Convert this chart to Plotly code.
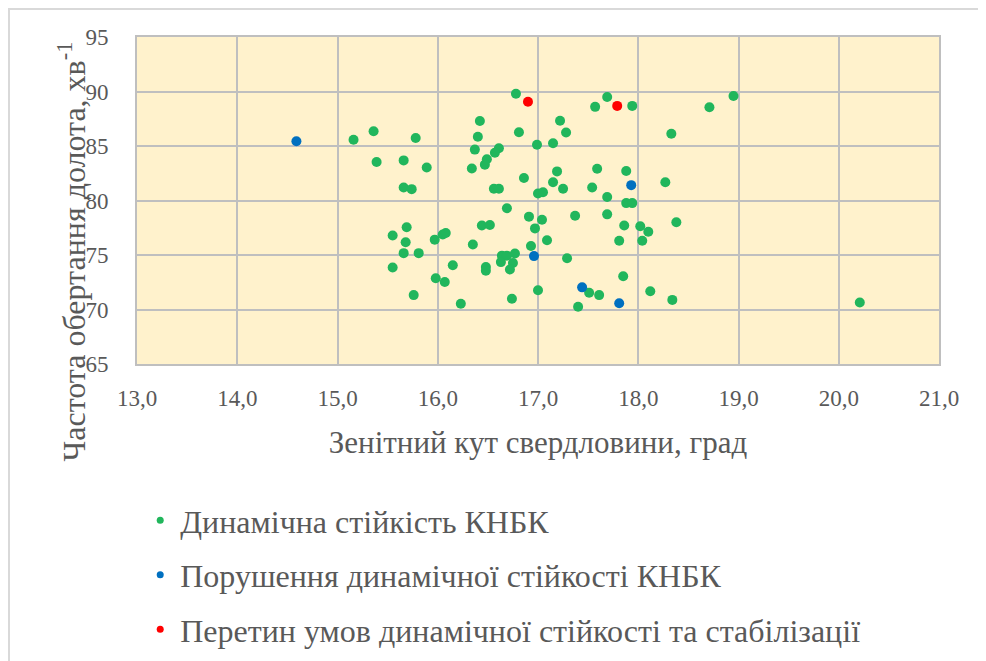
import plotly.graph_objects as go

# Динамічна стійкість КНБК
green_x = [15.16, 15.36, 15.39, 15.66, 15.66, 15.74, 15.78, 15.89, 16.78, 17.69, 17.57, 17.94,
           16.42, 17.22, 16.40, 16.81, 17.28, 18.33, 16.37, 16.61, 16.57, 16.99, 17.15, 16.49,
           16.47, 16.34, 16.86, 17.19, 17.59, 17.88, 18.27, 17.15, 17.25, 17.54, 16.56, 16.61,
           17.00, 17.05, 17.69, 17.88, 17.94, 16.69, 16.91, 17.04, 17.37, 17.69, 18.38, 18.95,
           18.71, 15.69, 15.68, 15.66, 15.81, 15.97, 16.05, 16.08, 16.35, 16.44, 16.52, 16.97,
           17.09, 16.93, 17.86, 18.02, 18.10, 17.81, 18.04, 16.15, 16.64, 16.69, 16.77, 16.63,
           16.75, 16.48, 16.48, 16.72, 17.29, 15.98, 16.07, 15.76, 16.23, 16.74, 17.00, 17.51,
           17.61, 17.40, 17.85, 18.12, 18.34, 15.55, 15.55, 20.21]
green_y = [85.58, 86.35, 83.53, 83.68, 81.20, 81.04, 85.73, 83.02, 89.79, 89.50, 88.59, 88.68,
           87.29, 87.32, 85.85, 86.26, 86.24, 86.12, 84.67, 84.79, 84.38, 85.11, 85.26, 83.79,
           83.29, 82.94, 82.06, 82.67, 82.91, 82.70, 81.67, 81.67, 81.08, 81.20, 81.08, 81.08,
           80.64, 80.76, 80.32, 79.76, 79.76, 79.29, 78.52, 78.24, 78.60, 78.73, 78.00, 89.59,
           88.56, 77.55, 76.17, 75.17, 75.17, 76.41, 76.88, 77.02, 75.96, 77.70, 77.76, 77.44,
           76.35, 75.82, 77.70, 77.64, 77.14, 76.31, 76.31, 74.06, 74.94, 74.94, 75.14, 74.35,
           74.26, 73.90, 73.55, 73.67, 74.70, 72.87, 72.52, 71.32, 70.52, 70.99, 71.76, 71.53,
           71.32, 70.26, 73.05, 71.67, 70.88, 76.79, 73.85, 70.64]

# Порушення динамічної стійкості КНБК
blue_x = [14.59, 17.93, 16.96, 17.44, 17.81]
blue_y = [85.44, 81.41, 74.90, 72.03, 70.58]

# Перетин умов динамічної стійкості та стабілізації
red_x = [16.90, 17.79]
red_y = [89.06, 88.68]

names = ["Динамічна стійкість КНБК",
         "Порушення динамічної стійкості КНБК",
         "Перетин умов динамічної стійкості та стабілізації"]
colors = ["#21B65C", "#0070C0", "#FF0000"]

x_ticks = [13, 14, 15, 16, 17, 18, 19, 20, 21]
y_ticks = [65, 70, 75, 80, 85, 90, 95]

x_title = "Зенітний кут свердловини, град"
y_title = "Частота обертання долота, хв<sup>-1</sup>"

FONT = "Times New Roman, Liberation Serif, Tinos, DejaVu Serif, serif"
TXT = "#595959"

# page has an 8px body margin, so the figure is placed 8px right/down
L, T, PW, PH = 129, 29, 802, 340
W, H = 986, 661

fig = go.Figure()
for xs, ys, nm, c in zip([green_x, blue_x, red_x], [green_y, blue_y, red_y], names, colors):
    fig.add_trace(go.Scatter(x=xs, y=ys, mode="markers", name=nm, showlegend=False,
                             marker=dict(color=c, size=10, line=dict(width=0))))
for i, (nm, c) in enumerate(zip(names, colors)):
    fig.add_trace(go.Scatter(x=[None], y=[None], mode="markers", name=nm,
                             legendgroup=str(i), showlegend=True,
                             marker=dict(color=c, size=7)))

fig.update_layout(
    width=W, height=H,
    margin=dict(l=L, r=W - L - PW, t=T, b=H - T - PH),
    paper_bgcolor="white",
    plot_bgcolor="#FFF2CC",
    separators=", ",
    font=dict(family=FONT, color=TXT, size=23),
    xaxis=dict(range=[13, 21], tickvals=x_ticks, tickformat=".1f",
               showgrid=True, gridcolor="#BFBFBF", gridwidth=2,
               showline=True, linecolor="#BFBFBF", linewidth=2, mirror=True,
               zeroline=False, ticks="", ticklabelstandoff=12,
               tickfont=dict(size=23, color=TXT, family=FONT),
               title=dict(text=x_title, standoff=22,
                          font=dict(size=31, color=TXT, family=FONT))),
    yaxis=dict(range=[65, 95], tickvals=y_ticks,
               showgrid=True, gridcolor="#BFBFBF", gridwidth=2,
               showline=True, linecolor="#BFBFBF", linewidth=2, mirror=True,
               zeroline=False, ticks="", ticklabelstandoff=22,
               tickfont=dict(size=23, color=TXT, family=FONT)),
    annotations=[dict(text=y_title, xref="paper", yref="paper",
                      x=(64 - L) / PW, y=(T + PH - 252) / PH,
                      xanchor="center", yanchor="middle", textangle=-90,
                      showarrow=False, font=dict(size=32, color=TXT, family=FONT))],
    legend=dict(x=0.004, y=-0.394, xanchor="left", yanchor="top",
                orientation="v", traceorder="grouped", tracegroupgap=10,
                font=dict(size=32, color=TXT, family=FONT),
                bgcolor="rgba(0,0,0,0)", itemwidth=30),
    shapes=[dict(type="rect", xref="paper", yref="paper",
                 x0=(1 - L) / PW, x1=1.2, y0=-1.0, y1=(PH + T) / PH,
                 line=dict(color="#D9D9D9", width=2), fillcolor="rgba(0,0,0,0)",
                 layer="below")],
)

fig.write_html("out.html")
